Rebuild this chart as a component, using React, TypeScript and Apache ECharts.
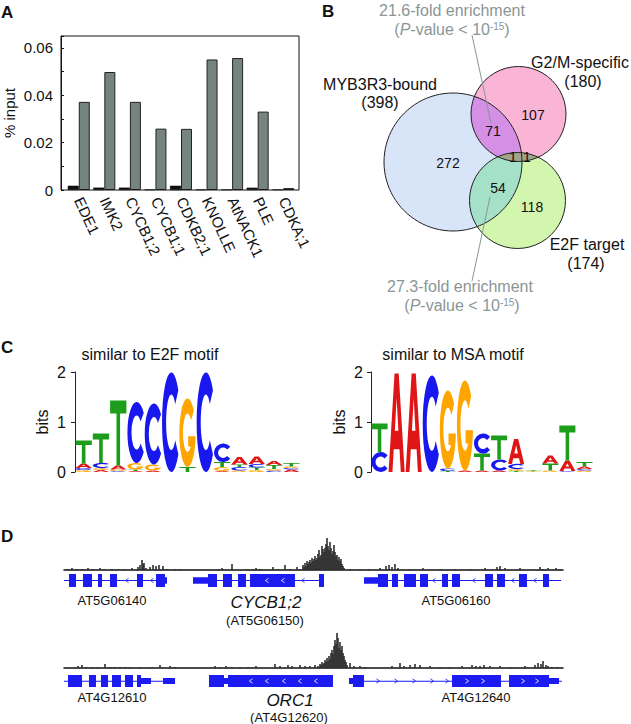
import React, { useEffect, useRef } from 'react';
import * as echarts from 'echarts';

const FONT = '"Liberation Sans", Arial, Helvetica, sans-serif';

// ---------- Panel A ----------
const genesA = ['EDE1', 'IMK2', 'CYCB1;2', 'CYCB1;1', 'CDKB2;1', 'KNOLLE', 'AtNACK1', 'PLE', 'CDKA;1'];
const controlInput = [0.0018, 0.001, 0.001, 0.0002, 0.0018, 0.0002, 0.0002, 0.001, 0.0002];
const myb3r3Input = [0.0372, 0.0498, 0.0372, 0.0259, 0.0258, 0.0551, 0.0557, 0.0331, 0.0008];

// ---------- Panel B ----------
const setNames = ['MYB3R3-bound', 'G2/M-specific', 'E2F target'];
const setTotals = [398, 180, 174];
const regionCounts = [272, 107, 118, 71, 54, 1, 1]; // M only, G only, E only, M&G, M&E, M&G&E, G&E
const enrichFold = [21.6, 27.3];

// ---------- Panel C ----------
const e2fLetters = ['GCAT', 'AGCT', 'CGAT', 'ATGC', 'AGC', 'C', 'TG', 'C', 'AGTC', 'GCTA', 'GTCA', 'CGTA', 'ACGT'];
const e2fHeights = [
  [0.04, 0.04, 0.09, 0.46], [0.04, 0.04, 0.1, 0.59], [0.02, 0.03, 0.08, 1.3], [0.02, 0.03, 0.13, 1.22],
  [0.03, 0.12, 1.22], [1.99], [0.1, 1.37], [1.99], [0.02, 0.08, 0.1, 0.37], [0.03, 0.07, 0.05, 0.15],
  [0.04, 0.05, 0.07, 0.15], [0.03, 0.03, 0.08, 0.08], [0.05, 0.03, 0.03, 0.07],
];
const msaLetters = ['CT', 'A', 'A', 'C', 'TCG', 'AG', 'ATC', 'ACT', 'TGCA', 'GT', 'GTA', 'CAT', 'GCAT'];
const msaHeights = [
  [0.4, 0.57], [1.97], [1.97], [1.93], [0.02, 0.05, 1.56], [0.03, 1.8], [0.03, 0.34, 0.4],
  [0.03, 0.22, 0.48], [0.02, 0.04, 0.1, 0.5], [0.015, 0.02], [0.03, 0.14, 0.16], [0.02, 0.21, 0.7],
  [0.03, 0.03, 0.05, 0.09],
];

// ---------- Panel D ----------
const track1 = [
  [4, 1], [8, 2], [13, 1], [18, 1], [24, 2], [29, 1], [36, 2], [40, 1], [48, 1], [54, 1], [60, 1], [68, 2],
  [74, 3], [76, 5], [78, 10], [79, 6], [80, 7], [82, 2], [86, 3], [89, 5], [92, 4], [95, 5], [99, 4], [103, 1],
  [111, 1], [116, 1], [154, 1], [158, 2], [168, 6], [184, 1], [192, 2], [196, 1], [209, 3], [214, 1],
  [221, 5], [226, 1], [233, 3], [236, 1],
  [239, 5], [240, 3], [241, 7], [242, 4], [243, 9], [244, 6], [245, 8], [246, 10], [247, 7], [248, 12],
  [249, 9], [250, 11], [251, 14], [252, 10], [253, 12], [254, 16], [255, 20], [256, 13], [257, 15],
  [258, 24], [259, 21], [260, 18], [261, 22], [262, 26], [263, 32], [264, 24], [265, 20], [266, 28],
  [267, 22], [268, 16], [269, 19], [270, 25], [271, 18], [272, 14], [273, 15], [274, 10], [275, 13],
  [276, 9], [277, 11], [278, 6], [279, 4], [280, 2],
  [286, 1], [296, 1], [305, 1], [316, 2], [322, 4], [325, 5], [328, 3], [331, 6], [334, 2], [346, 1],
  [359, 2], [376, 1], [391, 1], [406, 1], [421, 2], [433, 3], [436, 4], [441, 2], [456, 2], [476, 3],
  [479, 1], [484, 2], [492, 2], [496, 1],
];
const track2 = [
  [14, 2], [18, 3], [22, 1], [28, 1], [34, 1], [41, 4], [46, 1], [51, 1], [56, 1], [61, 1], [66, 1],
  [76, 1], [88, 1], [96, 3], [106, 2], [111, 1], [151, 2], [156, 1], [162, 2], [168, 1], [176, 1],
  [184, 1], [192, 2], [211, 4], [216, 2], [224, 3], [228, 2], [236, 3], [241, 2], [246, 2], [251, 3],
  [254, 2],
  [256, 4], [257, 3], [258, 6], [259, 4], [260, 5], [261, 8], [262, 6], [263, 10], [264, 7], [265, 12],
  [266, 9], [267, 15], [268, 18], [269, 14], [270, 22], [271, 28], [272, 24], [273, 35], [274, 30],
  [275, 20], [276, 26], [277, 18], [278, 22], [279, 15], [280, 12], [281, 8], [282, 6], [283, 3],
  [286, 5], [290, 2], [296, 2], [301, 1], [328, 2], [336, 5], [340, 2], [346, 3], [351, 4], [356, 3],
  [366, 2], [376, 1], [386, 1], [398, 2], [408, 3], [412, 2], [416, 2], [420, 3], [426, 2], [436, 2],
  [446, 1], [461, 2], [471, 3], [474, 5], [477, 4], [479, 7], [482, 3], [484, 2], [488, 1], [494, 1],
];
// [start, end, kind] kind: 0 intron, 1 UTR, 2 CDS exon
const genesRow1 = [
  [0, 103, 0], [129, 260, 0], [300, 497, 0],
  [5, 12, 2], [19, 28, 2], [34, 38, 2], [46, 53, 2], [73, 79, 2], [92, 101, 2], [101, 103, 1],
  [129, 144, 1], [144, 153, 2], [159, 168, 2], [174, 182, 2], [186, 231, 2], [255, 260, 2],
  [300, 314, 1], [314, 324, 2], [328, 334, 2], [340, 352, 2], [356, 364, 2], [378, 384, 2],
  [388, 396, 2], [421, 429, 2], [433, 441, 2], [455, 463, 2], [479, 485, 2],
];
const genesRow2 = [
  [0, 111, 0], [145, 269, 0], [285, 498, 0],
  [4, 18, 2], [25, 32, 2], [37, 44, 2], [48, 57, 2], [61, 69, 2], [73, 77, 2], [77, 87, 1], [99, 111, 1],
  [145, 160, 2], [160, 164, 1], [164, 269, 2],
  [285, 289, 1], [289, 300, 2], [388, 437, 2], [445, 485, 2], [485, 495, 1],
];
// strand chevrons: [position, direction (-1 '<', 1 '>'), onExon (1) or intron (0)]
const chevronsRow1 = [
  [63, -1, 0], [88, -1, 0], [203, -1, 1], [219, -1, 1], [239, -1, 0], [370, -1, 0], [410, -1, 0],
  [449, -1, 0], [471, -1, 0],
];
const chevronsRow2 = [
  [187, -1, 1], [203, -1, 1], [220, -1, 1], [236, -1, 1], [252, -1, 1],
  [314, 1, 0], [332, 1, 0], [350, 1, 0], [368, 1, 0], [383, 1, 0],
  [403, 1, 1], [419, 1, 1], [459, 1, 1], [473, 1, 1],
];
const geneLabelsRow1 = ['AT5G06140', 'CYCB1;2', '(AT5G06150)', 'AT5G06160'];
const geneLabelsRow2 = ['AT4G12610', 'ORC1', '(AT4G12620)', 'AT4G12640'];

// ---------- drawing helpers ----------
const GLYPHS = [
  'M0 100 L37 0 L63 0 L100 100 L76 100 L68 77 L32 77 L24 100 Z M39 58 L61 58 L50 25 Z',
  'M88.3 17.9 A50 50 0 1 0 88.3 82.1 L71.4 68 A28 28 0 1 1 71.4 32 Z',
  'M88.3 17.9 A50 50 0 1 0 99.7 55.2 L54 55.2 L54 70 L69.6 70 A28 28 0 1 1 71.4 32 Z',
  'M0 0 L100 0 L100 20 L61 20 L61 100 L39 100 L39 20 L0 20 Z',
];
const LETTER_COLORS = ['#e01515', '#1818ee', '#ffa500', '#1c9e1c'];
const GENE_BLUE = '#1c1cf2';

function logoData(letters: string[], heights: number[][]) {
  const out: number[][] = [];
  letters.forEach((col, i) => {
    let y = 0;
    col.split('').forEach((ch, j) => {
      const h = heights[i][j];
      out.push([i, y, y + h, 'ACGT'.indexOf(ch)]);
      y += h;
    });
  });
  return out;
}

const logoRender = (params: any, api: any) => {
  const i = api.value(0), y0 = api.value(1), y1 = api.value(2), k = api.value(3);
  const a = api.coord([i, y0]);
  const b = api.coord([i + 1, y1]);
  const h = a[1] - b[1];
  if (h < 0.4) return null;
  return {
    type: 'path',
    shape: { pathData: GLYPHS[k], x: a[0] + 0.5, y: b[1], width: b[0] - a[0] - 1, height: h, layout: 'cover' },
    style: { fill: LETTER_COLORS[k] },
  };
};

const geneRender = (params: any, api: any) => {
  const s = api.value(0), e = api.value(1), k = api.value(2);
  const half = k === 2 ? 1 : k === 1 ? 0.5 : 0.06;
  const p0 = api.coord([s, half]);
  const p1 = api.coord([e, -half]);
  return {
    type: 'rect',
    shape: { x: p0[0], y: p0[1], width: p1[0] - p0[0], height: Math.max(1, p1[1] - p0[1]) },
    style: { fill: GENE_BLUE },
  };
};

const chevronRender = (params: any, api: any) => {
  const pos = api.value(0), dir = api.value(1), onExon = api.value(2);
  const c = api.coord([pos, 0]);
  const w = 1.6 * dir, h = 2.2;
  return {
    type: 'polyline',
    z2: 5,
    shape: { points: [[c[0] - w, c[1] - h], [c[0] + w, c[1]], [c[0] - w, c[1] + h]] },
    style: { stroke: onExon ? '#ffffff' : GENE_BLUE, lineWidth: 0.8, fill: 'none' },
  };
};

type C = { cx: number; cy: number; r: number };
function lensPoints(a: C, b: C) {
  const pts: number[][] = [];
  const N = 720;
  for (let i = 0; i < N; i++) {
    const t = (i / N) * 2 * Math.PI;
    const p1 = [a.cx + a.r * Math.cos(t), a.cy + a.r * Math.sin(t)];
    if (Math.hypot(p1[0] - b.cx, p1[1] - b.cy) <= b.r) pts.push(p1);
    const p2 = [b.cx + b.r * Math.cos(t), b.cy + b.r * Math.sin(t)];
    if (Math.hypot(p2[0] - a.cx, p2[1] - a.cy) <= a.r) pts.push(p2);
  }
  const mx = pts.reduce((s, p) => s + p[0], 0) / pts.length;
  const my = pts.reduce((s, p) => s + p[1], 0) / pts.length;
  pts.sort((p, q) => Math.atan2(p[1] - my, p[0] - mx) - Math.atan2(q[1] - my, q[0] - mx));
  return pts;
}

function txt(text: string, x: number, y: number, size: number, opts: any = {}) {
  return {
    type: 'text',
    x,
    y,
    z: 10,
    style: {
      text,
      fontSize: size,
      fontFamily: FONT,
      fontStyle: opts.italic ? 'italic' : 'normal',
      fontWeight: opts.bold ? 'bold' : 'normal',
      fill: opts.color || '#111',
      align: opts.align || 'center',
      verticalAlign: 'middle',
    },
  };
}

function pvalue(x: number, y: number) {
  return {
    type: 'text',
    x,
    y,
    z: 10,
    style: {
      text: '{a|(}{i|P}{a|-value < 10}{s|-15}{a|)}',
      align: 'center',
      verticalAlign: 'middle',
      rich: {
        a: { fontSize: 16, fontFamily: FONT, fill: '#8a9696', color: '#8a9696' },
        i: { fontSize: 16, fontFamily: FONT, fontStyle: 'italic', fill: '#8a9696', color: '#8a9696' },
        s: { fontSize: 10, fontFamily: FONT, fill: '#8a9696', color: '#8a9696', verticalAlign: 'top', lineHeight: 10 },
      },
    },
  };
}

function buildOption() {
  const blue: C = { cx: 453, cy: 162, r: 69 };
  const pink: C = { cx: 518.5, cy: 114, r: 47.5 };
  const green: C = { cx: 517.5, cy: 200.5, r: 48 };
  const regionPos = [[448, 163], [533, 115], [532, 207], [493, 131], [498, 188], [513, 157], [527, 157]];

  const graphic: any[] = [
    // panel letters
    txt('A', 1, 12.5, 17, { bold: true, align: 'left' }),
    txt('B', 322, 11.5, 17, { bold: true, align: 'left' }),
    txt('C', 1, 347.5, 17, { bold: true, align: 'left' }),
    txt('D', 1, 536, 17, { bold: true, align: 'left' }),
    // panel A frame
    { type: 'rect', z: 5, shape: { x: 61, y: 36, width: 238, height: 154 }, style: { fill: 'none', stroke: '#111', lineWidth: 1 } },
    // Venn fills
    { type: 'circle', shape: { ...blue }, style: { fill: '#d8e4f8' } },
    { type: 'circle', shape: { ...pink }, style: { fill: '#f9b4d6' } },
    { type: 'circle', shape: { ...green }, style: { fill: '#d2f6ae' } },
    { type: 'polygon', shape: { points: lensPoints(blue, pink) }, style: { fill: '#d590e6' } },
    { type: 'polygon', shape: { points: lensPoints(blue, green) }, style: { fill: '#a5e1c8' } },
    { type: 'polygon', shape: { points: lensPoints(pink, green) }, style: { fill: '#a3a48c' } },
    { type: 'circle', shape: { ...blue }, style: { fill: 'none', stroke: '#222', lineWidth: 1 } },
    { type: 'circle', shape: { ...pink }, style: { fill: 'none', stroke: '#222', lineWidth: 1 } },
    { type: 'circle', shape: { ...green }, style: { fill: 'none', stroke: '#222', lineWidth: 1 } },
    { type: 'line', z: 9, shape: { x1: 472, y1: 35, x2: 491, y2: 123 }, style: { stroke: '#8a9696', lineWidth: 1 } },
    { type: 'line', z: 9, shape: { x1: 490, y1: 197, x2: 472, y2: 281 }, style: { stroke: '#8a9696', lineWidth: 1 } },
    txt(`${enrichFold[0]}-fold enrichment`, 452, 10, 16, { color: '#8a9696' }),
    pvalue(452, 29),
    txt(`${enrichFold[1]}-fold enrichment`, 460, 286, 16, { color: '#8a9696' }),
    pvalue(462, 305),
    txt(setNames[0], 380, 84, 16),
    txt(`(${setTotals[0]})`, 380, 102, 16),
    txt(setNames[1], 580, 62, 16),
    txt(`(${setTotals[1]})`, 583, 81, 16),
    txt(setNames[2], 587, 244, 16),
    txt(`(${setTotals[2]})`, 586, 263, 16),
    ...regionCounts.map((v, i) => txt(String(v), regionPos[i][0], regionPos[i][1], 14)),
    // panel C titles
    txt('similar to E2F motif', 150, 354, 16),
    txt('similar to MSA motif', 453, 354, 16),
    // panel D labels
    txt(geneLabelsRow1[0], 112, 600, 13),
    txt(geneLabelsRow1[1], 266, 602, 17, { italic: true }),
    txt(geneLabelsRow1[2], 265, 620, 13),
    txt(geneLabelsRow1[3], 456, 600, 13),
    txt(geneLabelsRow2[0], 112, 697, 13),
    txt(geneLabelsRow2[1], 290, 700, 17, { italic: true }),
    txt(geneLabelsRow2[2], 289, 717, 13),
    txt(geneLabelsRow2[3], 476, 697, 13),
  ];

  const hidden = { show: false };
  const logoY = (gridIndex: number, offset: number) => ({
    type: 'value', gridIndex, min: 0, max: 2, interval: 1, offset,
    axisLine: { show: true, lineStyle: { color: '#222', width: 1 } },
    axisTick: { show: true, length: 4, lineStyle: { color: '#222' } },
    axisLabel: { fontSize: 16, color: '#111', margin: 6, fontFamily: FONT },
    splitLine: { show: false },
    name: 'bits', nameLocation: 'middle', nameGap: 22,
    nameTextStyle: { fontSize: 16, color: '#111', fontFamily: FONT },
  });
  const trackX = (gridIndex: number, line: boolean) => ({
    type: 'value', gridIndex, min: 0, max: 499,
    axisLine: { show: line, onZero: false, lineStyle: { color: '#111', width: 1.5 } },
    axisTick: hidden, axisLabel: hidden, splitLine: hidden,
  });
  const hiddenY = (gridIndex: number, min: number, max: number) => ({
    type: 'value', gridIndex, min, max, axisLine: hidden, axisTick: hidden, axisLabel: hidden, splitLine: hidden,
  });

  return {
    animation: false,
    textStyle: { fontFamily: FONT },
    grid: [
      { left: 66, width: 230, top: 36, height: 154 },
      { left: 75, width: 225, top: 372, height: 100 },
      { left: 371, width: 222, top: 372, height: 100 },
      { left: 64, width: 499, top: 537, height: 33 },
      { left: 64, width: 499, top: 574, height: 13 },
      { left: 64, width: 499, top: 633, height: 35 },
      { left: 64, width: 499, top: 675, height: 12 },
    ],
    xAxis: [
      {
        type: 'category', gridIndex: 0, data: genesA,
        axisLine: hidden, axisTick: hidden,
        axisLabel: { rotate: -65, interval: 0, fontSize: 15, color: '#111', margin: 8, fontFamily: FONT },
      },
      { type: 'value', gridIndex: 1, min: 0, max: 13, show: false },
      { type: 'value', gridIndex: 2, min: 0, max: 13, show: false },
      trackX(3, true),
      trackX(4, false),
      trackX(5, true),
      trackX(6, false),
    ],
    yAxis: [
      {
        type: 'value', gridIndex: 0, min: 0, max: 0.065, interval: 0.02, offset: 5,
        axisLine: { show: true, lineStyle: { color: '#111' } },
        axisTick: { show: true, inside: true, length: 3, lineStyle: { color: '#111' } },
        minorTick: { show: true, splitNumber: 2, length: 3, lineStyle: { color: '#111' } },
        splitLine: hidden,
        axisLabel: {
          fontSize: 15, color: '#111', margin: 8, showMaxLabel: false, fontFamily: FONT,
          formatter: (v: number) => (v === 0 ? '0' : Math.abs(v / 0.02 - Math.round(v / 0.02)) < 1e-6 ? v.toFixed(2) : ''),
        },
        name: '% input', nameLocation: 'middle', nameGap: 44,
        nameTextStyle: { fontSize: 15, color: '#111', fontFamily: FONT },
      },
      logoY(1, 3),
      logoY(2, 2),
      hiddenY(3, 0, 33),
      hiddenY(4, -1, 1),
      hiddenY(5, 0, 35),
      hiddenY(6, -1, 1),
    ],
    series: [
      {
        type: 'bar', xAxisIndex: 0, yAxisIndex: 0, data: controlInput, barWidth: 11, barGap: '0%',
        itemStyle: { color: '#111', borderColor: '#000', borderWidth: 0.5 },
      },
      {
        type: 'bar', xAxisIndex: 0, yAxisIndex: 0, data: myb3r3Input, barWidth: 11, barGap: '0%',
        itemStyle: { color: '#76847f', borderColor: '#222', borderWidth: 1 },
      },
      {
        type: 'custom', xAxisIndex: 1, yAxisIndex: 1, data: logoData(e2fLetters, e2fHeights),
        encode: { x: 0, y: [1, 2] }, renderItem: logoRender, clip: false,
      },
      {
        type: 'custom', xAxisIndex: 2, yAxisIndex: 2, data: logoData(msaLetters, msaHeights),
        encode: { x: 0, y: [1, 2] }, renderItem: logoRender, clip: false,
      },
      { type: 'bar', xAxisIndex: 3, yAxisIndex: 3, data: track1, barWidth: 1.6, itemStyle: { color: '#2e2e2e' } },
      {
        type: 'custom', xAxisIndex: 4, yAxisIndex: 4, data: genesRow1,
        encode: { x: [0, 1], y: 2 }, renderItem: geneRender, clip: false,
      },
      {
        type: 'custom', xAxisIndex: 4, yAxisIndex: 4, data: chevronsRow1, z: 3,
        encode: { x: 0, y: 1 }, renderItem: chevronRender, clip: false,
      },
      { type: 'bar', xAxisIndex: 5, yAxisIndex: 5, data: track2, barWidth: 1.6, itemStyle: { color: '#2e2e2e' } },
      {
        type: 'custom', xAxisIndex: 6, yAxisIndex: 6, data: genesRow2,
        encode: { x: [0, 1], y: 2 }, renderItem: geneRender, clip: false,
      },
      {
        type: 'custom', xAxisIndex: 6, yAxisIndex: 6, data: chevronsRow2, z: 3,
        encode: { x: 0, y: 1 }, renderItem: chevronRender, clip: false,
      },
    ],
    graphic,
  };
}

export default function App() {
  const ref = useRef<HTMLDivElement>(null);
  useEffect(() => {
    document.body.style.margin = '0';
    const chart = echarts.init(ref.current as HTMLDivElement, null, { renderer: 'svg' });
    chart.setOption(buildOption() as any);
    return () => chart.dispose();
  }, []);
  return <div ref={ref} style={{ width: 631, height: 724 }} />;
}
